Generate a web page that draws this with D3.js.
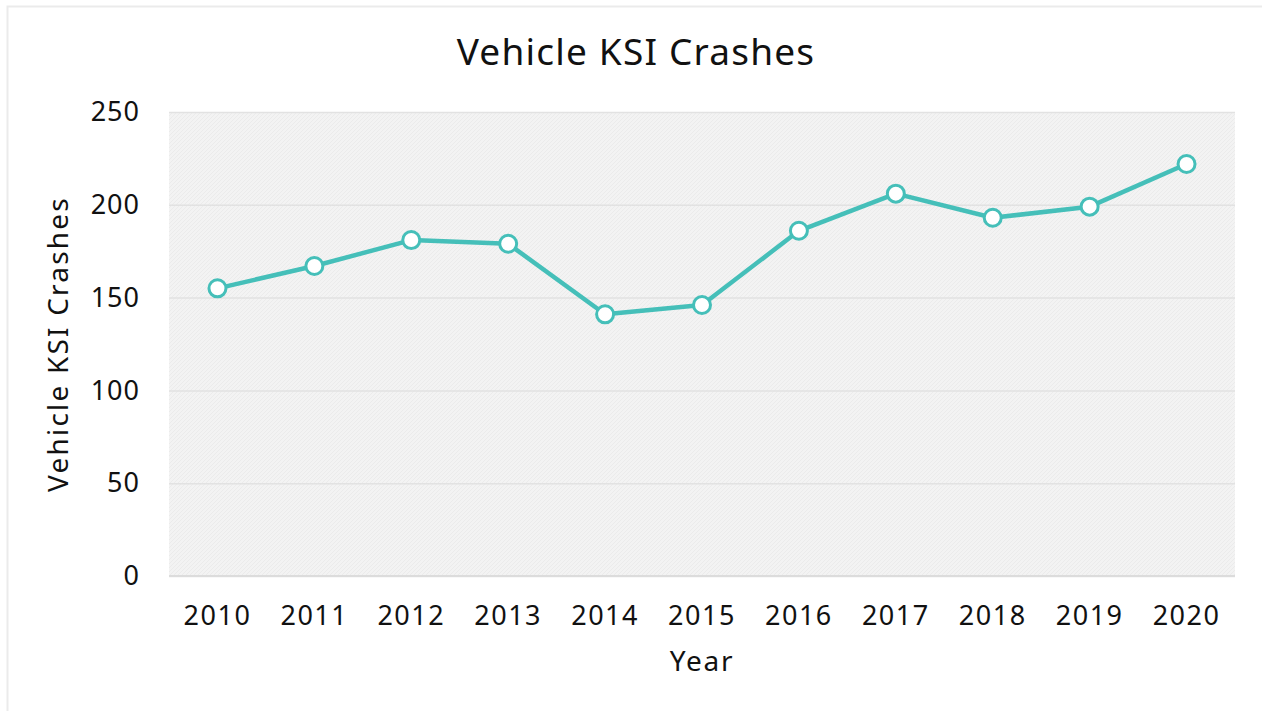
<!DOCTYPE html>
<html>
<head>
<meta charset="utf-8">
<script src="https://cdn.jsdelivr.net/npm/d3@7"></script>
<style>
  body { margin: 0; background: #fff; }
  text { font-family: "Noto Sans", "DejaVu Sans", sans-serif; fill: #111; }
</style>
</head>
<body>
<div class="chart"></div>
<script>
var years = ["2010", "2011", "2012", "2013", "2014", "2015", "2016", "2017", "2018", "2019", "2020"];
var crashes = [155, 167, 181, 179, 141, 146, 186, 206, 193, 199, 222];
var yTicks = [0, 50, 100, 150, 200, 250];

var svgWidth = 1262;
var svgHeight = 711;
var margin = { top: 112, right: 27, bottom: 135, left: 169 };
var width = svgWidth - margin.left - margin.right;
var height = svgHeight - margin.top - margin.bottom;

var data = years.map(function(y, i) { return { year: y, value: crashes[i] }; });

var svg = d3.select(".chart")
  .append("svg")
    .attr("width", svgWidth)
    .attr("height", svgHeight);

// faint frame round the whole chart
svg.append("rect")
  .attr("x", 7.5).attr("y", 6.5)
  .attr("width", svgWidth).attr("height", svgHeight)
  .attr("fill", "none")
  .attr("stroke", "#ebebeb")
  .attr("stroke-width", 2);

// subtle hatched plot background
var pattern = svg.append("defs").append("pattern")
  .attr("id", "hatch")
  .attr("patternUnits", "userSpaceOnUse")
  .attr("width", 4).attr("height", 4);
pattern.append("rect").attr("width", 4).attr("height", 4).attr("fill", "#f3f3f3");
pattern.append("path").attr("d", "M-1,1 l2,-2 M0,4 l4,-4 M3,5 l2,-2")
  .attr("stroke", "#ebebeb").attr("stroke-width", 1);

var chart = svg.append("g")
  .attr("transform", "translate(" + margin.left + "," + margin.top + ")");

var xScale = d3.scaleBand().domain(years).range([0, width]);
var yScale = d3.scaleLinear().domain([0, 250]).range([height, 0]);

chart.append("rect")
  .attr("width", width).attr("height", height)
  .attr("fill", "url(#hatch)");

// gridlines
chart.append("g")
  .call(d3.axisLeft(yScale).tickValues(yTicks).tickSize(-width).tickFormat(""))
  .call(function(g) { g.select(".domain").remove(); })
  .call(function(g) { g.selectAll("line").attr("stroke", "#e2e2e2").attr("stroke-width", 1.5); });

// bottom baseline
chart.append("line")
  .attr("x1", 0).attr("x2", width)
  .attr("y1", height).attr("y2", height)
  .attr("stroke", "#dcdcdc").attr("stroke-width", 2);

// y tick labels
var leftAxis = chart.append("g")
  .call(d3.axisLeft(yScale).tickValues(yTicks).tickSize(0).tickPadding(29));
leftAxis.select(".domain").remove();
leftAxis.selectAll("text").attr("font-size", 27).attr("letter-spacing", 1).style("fill", "#111");

// x tick labels
var bottomAxis = chart.append("g")
  .attr("transform", "translate(0," + height + ")")
  .call(d3.axisBottom(xScale).tickSize(0).tickPadding(30));
bottomAxis.select(".domain").remove();
bottomAxis.selectAll("text").attr("font-size", 27).attr("letter-spacing", 1.5).style("fill", "#111");

// line and markers
var line = d3.line()
  .x(function(d) { return xScale(d.year) + xScale.bandwidth() / 2; })
  .y(function(d) { return yScale(d.value); });

chart.append("path")
  .datum(data)
  .attr("d", line)
  .attr("fill", "none")
  .attr("stroke", "#45bfb9")
  .attr("stroke-width", 4.5)
  .attr("stroke-linejoin", "round");

chart.selectAll("circle")
  .data(data)
  .enter().append("circle")
    .attr("cx", function(d) { return xScale(d.year) + xScale.bandwidth() / 2; })
    .attr("cy", function(d) { return yScale(d.value); })
    .attr("r", 8.5)
    .attr("fill", "#fff")
    .attr("stroke", "#45bfb9")
    .attr("stroke-width", 3);

// titles
svg.append("text")
  .attr("x", 636).attr("y", 65)
  .attr("text-anchor", "middle")
  .attr("font-size", 37)
  .attr("letter-spacing", 1.2)
  .text("Vehicle KSI Crashes");

svg.append("text")
  .attr("transform", "translate(68," + (margin.top + height / 2) + ") rotate(-90)")
  .attr("text-anchor", "middle")
  .attr("font-size", 28)
  .attr("letter-spacing", 2.2)
  .text("Vehicle KSI Crashes");

svg.append("text")
  .attr("x", margin.left + width / 2).attr("y", 671)
  .attr("text-anchor", "middle")
  .attr("font-size", 28)
  .attr("letter-spacing", 1.8)
  .text("Year");
</script>
</body>
</html>
